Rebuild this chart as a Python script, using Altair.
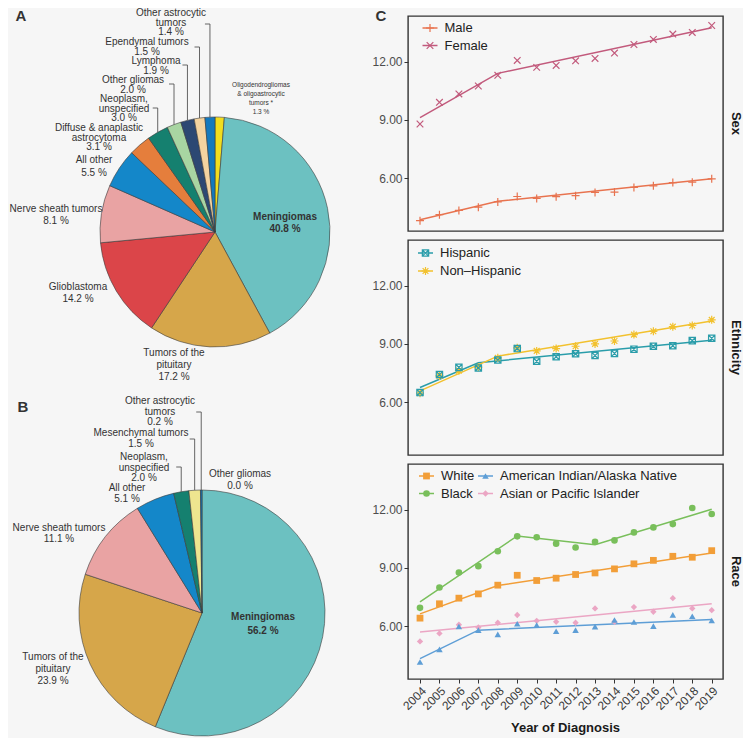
import math
import altair as alt
import pandas as pd

FONT = "Liberation Sans"
BG = "#F6F6F6"
TXT = "#333333"

# ---------------- Panel A / B : pie data ----------------
PIE_A_CATS = ["Oligodendrogliomas & oligoastrocytic tumors", "Meningiomas", "Tumors of the pituitary",
              "Glioblastoma", "Nerve sheath tumors", "All other", "Diffuse & anaplastic astrocytoma",
              "Neoplasm, unspecified", "Other gliomas", "Lymphoma", "Ependymal tumors",
              "Other astrocytic tumors"]
PIE_A_PCT = [1.3, 40.8, 17.2, 14.2, 8.1, 5.5, 3.1, 3.0, 2.0, 1.9, 1.5, 1.4]

PIE_B_CATS = ["Other gliomas", "Meningiomas", "Tumors of the pituitary", "Nerve sheath tumors",
              "All other", "Neoplasm, unspecified", "Mesenchymal tumors", "Other astrocytic tumors"]
PIE_B_PCT = [0.0, 56.2, 23.9, 11.1, 5.1, 2.0, 1.5, 0.2]

CAT_COLORS = {
    "Meningiomas": "#6CC1C1",
    "Tumors of the pituitary": "#D6A64A",
    "Glioblastoma": "#DB4549",
    "Nerve sheath tumors": "#E9A3A3",
    "All other": "#1487C9",
    "Diffuse & anaplastic astrocytoma": "#E57E3C",
    "Neoplasm, unspecified": "#15806F",
    "Other gliomas": "#A8D5A2",
    "Lymphoma": "#2C4873",
    "Ependymal tumors": "#F3D3A0",
    "Other astrocytic tumors": "#1479BD",
    "Oligodendrogliomas & oligoastrocytic tumors": "#F1DD1F",
    "Mesenchymal tumors": "#EEE58F",
}

# ---------------- Panel C : incidence rates ----------------
YEARS = list(range(2004, 2020))

MALE = [3.80, 4.11, 4.33, 4.50, 4.77, 5.05, 4.95, 5.04, 5.09, 5.26, 5.28, 5.52, 5.60, 5.77, 5.79, 5.96]
FEMALE = [8.79, 9.91, 10.34, 10.75, 11.30, 12.07, 11.71, 11.81, 12.05, 12.17, 12.45, 12.89, 13.15, 13.43, 13.51, 13.87]
MALE_FIT_YEARS = [2004, 2008, 2019]
MALE_FIT = [3.85, 4.80, 5.97]
FEMALE_FIT_YEARS = [2004, 2008, 2019]
FEMALE_FIT = [9.12, 11.40, 13.75]

HISPANIC = [6.49, 7.42, 7.79, 7.76, 8.17, 8.76, 8.11, 8.34, 8.49, 8.40, 8.51, 8.73, 8.88, 8.91, 9.17, 9.29]
NON_HISPANIC = [6.46, 7.35, 7.62, 7.80, 8.28, 8.80, 8.64, 8.76, 8.88, 9.00, 9.15, 9.48, 9.65, 9.89, 9.95, 10.24]
HISPANIC_FIT_YEARS = [2004, 2007, 2019]
HISPANIC_FIT = [6.75, 8.03, 9.19]
NON_HISPANIC_FIT_YEARS = [2004, 2008, 2019]
NON_HISPANIC_FIT = [6.58, 8.37, 10.18]

WHITE = [6.41, 7.15, 7.44, 7.66, 8.11, 8.62, 8.35, 8.47, 8.66, 8.74, 8.95, 9.21, 9.39, 9.60, 9.55, 9.89]
BLACK = [6.94, 7.99, 8.76, 9.09, 9.86, 10.63, 10.58, 10.25, 10.05, 10.35, 10.42, 10.83, 11.09, 11.26, 12.09, 11.78]
AIAN = [4.15, 4.80, 5.98, 5.79, 5.57, 6.12, 6.05, 5.73, 5.79, 5.97, 6.31, 6.21, 6.00, 6.58, 6.51, 6.29]
API = [5.21, 5.62, 6.07, 5.93, 6.17, 6.57, 6.27, 6.22, 6.17, 6.91, 6.22, 6.98, 6.74, 7.44, 6.91, 6.82]
WHITE_FIT_YEARS = [2004, 2008, 2019]
WHITE_FIT = [6.63, 8.09, 9.77]
BLACK_FIT_YEARS = [2004, 2009, 2013, 2019]
BLACK_FIT = [7.25, 10.65, 10.20, 12.03]
AIAN_FIT_YEARS = [2004, 2007, 2019]
AIAN_FIT = [4.32, 5.79, 6.34]
API_FIT_YEARS = [2004, 2019]
API_FIT = [5.69, 7.15]

Y_TICKS = [6, 9, 12]

# ---------------- layout (screen px of the reference) ----------------
OX, OY = 8, 16          # screen -> left-view coordinates
PIE_A_C, PIE_A_R = (214, 232), 115
PIE_B_C, PIE_B_R = (201, 613), 123

NAME_LINES = {
    "Meningiomas": ["Meningiomas"],
    "Tumors of the pituitary": ["Tumors of the", "pituitary"],
    "Glioblastoma": ["Glioblastoma"],
    "Nerve sheath tumors": ["Nerve sheath tumors"],
    "All other": ["All other"],
    "Diffuse & anaplastic astrocytoma": ["Diffuse & anaplastic", "astrocytoma"],
    "Neoplasm, unspecified": ["Neoplasm,", "unspecified"],
    "Other gliomas": ["Other gliomas"],
    "Lymphoma": ["Lymphoma"],
    "Ependymal tumors": ["Ependymal tumors"],
    "Other astrocytic tumors": ["Other astrocytic", "tumors"],
    "Oligodendrogliomas & oligoastrocytic tumors": ["Oligodendrogliomas", "& oligoastrocytic", "tumors *"],
    "Mesenchymal tumors": ["Mesenchymal tumors"],
}
# (center x, first line y, line step, style)
POS_A = {
    "Other astrocytic tumors": (170, 13, 9.5, "n"),
    "Ependymal tumors": (146, 41.5, 10, "n"),
    "Lymphoma": (155, 61, 9.5, "n"),
    "Other gliomas": (132, 80, 9.5, "n"),
    "Neoplasm, unspecified": (123, 99, 9.5, "n"),
    "Diffuse & anaplastic astrocytoma": (98, 128, 9.5, "n"),
    "All other": (93, 160, 12.5, "n"),
    "Nerve sheath tumors": (55, 209, 12, "n"),
    "Glioblastoma": (77, 287, 12, "n"),
    "Tumors of the pituitary": (173, 353, 12, "n"),
    "Meningiomas": (284, 217, 11.5, "b"),
    "Oligodendrogliomas & oligoastrocytic tumors": (260, 85, 9, "s"),
}
POS_B = {
    "Other astrocytic tumors": (159, 401, 10.5, "n"),
    "Mesenchymal tumors": (140, 433, 11, "n"),
    "Neoplasm, unspecified": (143, 457, 10.5, "n"),
    "All other": (126, 488, 11, "n"),
    "Other gliomas": (239, 474, 12, "n"),
    "Nerve sheath tumors": (58, 528, 11, "n"),
    "Tumors of the pituitary": (52, 657, 12, "n"),
    "Meningiomas": (262, 617, 14, "b"),
}
LEADERS_A = {"Other astrocytic tumors": 24, "Ependymal tumors": 47, "Lymphoma": 65,
             "Other gliomas": 84, "Neoplasm, unspecified": 108}
LEADERS_B = {"Other astrocytic tumors": 412, "Mesenchymal tumors": 439, "Neoplasm, unspecified": 467}
LETTERS = [("A", 20, 15.5), ("B", 22, 407), ("C", 380, 15.5)]

# ---------------- left view: two pies ----------------
all_cats = list(CAT_COLORS.keys())
cat_scale = alt.Scale(domain=all_cats, range=[CAT_COLORS[c] for c in all_cats])


def pie_layer(cats, pcts, center, r):
    df = pd.DataFrame({"cat": cats, "pct": pcts, "ord": list(range(len(cats)))})
    return alt.Chart(df).mark_arc(radius=r, stroke="#3a3a3a", strokeWidth=0.6).encode(
        theta=alt.Theta("pct:Q", stack=True),
        order=alt.Order("ord:Q"),
        color=alt.Color("cat:N", scale=cat_scale, legend=None),
        x=alt.value(center[0] - OX), y=alt.value(center[1] - OY),
    )


rows = []
for cats, pcts, pos in ((PIE_A_CATS, PIE_A_PCT, POS_A), (PIE_B_CATS, PIE_B_PCT, POS_B)):
    for c, p in zip(cats, pcts):
        x, y0, dy, st = pos[c]
        lines = NAME_LINES[c] + [f"{p:.1f} %"]
        for i, t in enumerate(lines):
            rows.append({"text": t, "x": x - OX, "y": y0 + i * dy - OY, "st": st})
lab = pd.DataFrame(rows)


def text_layer(df, size, weight="normal"):
    return alt.Chart(df).mark_text(font=FONT, fontSize=size, fontWeight=weight, color=TXT,
                                   align="center", baseline="middle").encode(
        x=alt.X("x:Q", scale=None, axis=None), y=alt.Y("y:Q", scale=None, axis=None), text="text:N")


lead_rows = []
for cats, pcts, leaders, center, r in ((PIE_A_CATS, PIE_A_PCT, LEADERS_A, PIE_A_C, PIE_A_R),
                                       (PIE_B_CATS, PIE_B_PCT, LEADERS_B, PIE_B_C, PIE_B_R)):
    for c, ty in leaders.items():
        i = cats.index(c)
        mid = sum(pcts[:i]) + pcts[i] / 2
        a = mid / 100 * 2 * math.pi
        ex = center[0] + r * math.sin(a)
        ey = center[1] - r * math.cos(a)
        lead_rows.append({"x": ex - 5 - OX, "x2": ex - OX, "y": ty - OY, "y2": ty - OY})
        lead_rows.append({"x": ex - OX, "x2": ex - OX, "y": ty - OY, "y2": ey - OY})
leaders_df = pd.DataFrame(lead_rows)
leader_layer = alt.Chart(leaders_df).mark_rule(color="#555555", strokeWidth=0.9).encode(
    x=alt.X("x:Q", scale=None, axis=None), x2="x2:Q",
    y=alt.Y("y:Q", scale=None, axis=None), y2="y2:Q")

letters_df = pd.DataFrame([{"text": t, "x": x - OX, "y": y - OY} for t, x, y in LETTERS])

anchor = alt.Chart(pd.DataFrame({"a": [0]})).mark_rule(color=BG, strokeWidth=1).encode(
    x=alt.value(0), x2=alt.value(2), y=alt.value(-7.5))

left = alt.layer(
    anchor,
    pie_layer(PIE_A_CATS, PIE_A_PCT, PIE_A_C, PIE_A_R),
    pie_layer(PIE_B_CATS, PIE_B_PCT, PIE_B_C, PIE_B_R),
    leader_layer,
    text_layer(lab[lab.st == "n"], 10),
    text_layer(lab[lab.st == "b"], 10, "bold"),
    text_layer(lab[lab.st == "s"], 6.5),
    text_layer(letters_df, 15, "bold"),
).resolve_scale(theta="independent").properties(width=399, height=720)

# ---------------- right column: three panels ----------------
W, H = 315, 215
X_DOM = [2003.383, 2019.58]
Y_DOM = [3.27, 14.36]

PLUS = "M-1,0L1,0M0,-1L0,1"
CROSS = "M-1,-1L1,1M-1,1L1,-1"
BOXX = "M-1,-1L1,-1L1,1L-1,1ZM-1,-1L1,1M-1,1L1,-1"
STAR = "M-1,0L1,0M0,-1L0,1M-0.72,-0.72L0.72,0.72M-0.72,0.72L0.72,-0.72"

y_axis = alt.Axis(values=Y_TICKS, format=".2f", grid=False, domain=False, tickSize=4, labelPadding=2,
                  title=None, labelFont=FONT, labelFontSize=12, labelColor="#4d4d4d", tickColor="#333333")
x_axis = alt.Axis(values=YEARS, format="d", labelAngle=-45, labelAlign="right", labelBaseline="top",
                  grid=False, domain=False, tickSize=4, labelPadding=2, title=None, labelFont=FONT,
                  labelFontSize=12, labelColor="#3a3a3a", tickColor="#333333", labelOverlap=False,
                  labelFlush=False)


def panel(strip, names, values, fits, colors, shapes, sizes, filled, legend, draw_order, bottom=False):
    cs = alt.Scale(domain=names, range=colors)
    ss = alt.Scale(domain=names, range=shapes)
    zs = alt.Scale(domain=names, range=sizes)
    pts = pd.DataFrame([{"year": y, "value": v, "series": names[k]}
                        for k in draw_order for y, v in zip(YEARS, values[k])])
    fit = pd.DataFrame([{"year": y, "value": v, "series": n}
                        for n, (fy, fv) in zip(names, fits) for y, v in zip(fy, fv)])
    xenc = alt.X("year:Q", scale=alt.Scale(domain=X_DOM, nice=False, zero=False),
                 axis=x_axis if bottom else None)
    yenc = alt.Y("value:Q", scale=alt.Scale(domain=Y_DOM, nice=False, zero=False), axis=y_axis)
    col = alt.Color("series:N", scale=cs, legend=None)
    shp = alt.Shape("series:N", scale=ss, legend=None)
    siz = alt.Size("series:N", scale=zs, legend=None)

    layers = [
        alt.Chart(fit).mark_line(strokeWidth=1.5).encode(x=xenc, y=yenc, color=col, detail="series:N"),
        alt.Chart(pts).mark_point(filled=filled, strokeWidth=1.2, opacity=1).encode(
            x=xenc, y=yenc, color=col, shape=shp, size=siz),
    ]
    for name, x0, ly in legend:
        d = pd.DataFrame({"series": [name]})
        layers.append(alt.Chart(d).mark_rule(strokeWidth=1.5).encode(
            x=alt.value(x0), x2=alt.value(x0 + 15), y=alt.value(ly), color=col))
        layers.append(alt.Chart(d).mark_point(filled=filled, strokeWidth=1.2, opacity=1).encode(
            x=alt.value(x0 + 7.5), y=alt.value(ly), color=col, shape=shp, size=siz))
        layers.append(alt.Chart(d).mark_text(font=FONT, fontSize=13, color="#222222", align="left",
                                             baseline="middle").encode(
            x=alt.value(x0 + 22), y=alt.value(ly), text="series:N"))
    layers.append(alt.Chart(pd.DataFrame({"t": [strip]})).mark_text(
        font=FONT, fontSize=13, fontWeight="bold", color="#1a1a1a", angle=90,
        align="center", baseline="middle").encode(x=alt.value(328), y=alt.value(H / 2), text="t:N"))
    if bottom:
        layers.append(alt.Chart(pd.DataFrame({"t": ["Year of Diagnosis"]})).mark_text(
            font=FONT, fontSize=13, fontWeight="bold", color="#1a1a1a", align="center",
            baseline="middle").encode(x=alt.value(W / 2), y=alt.value(263.5), text="t:N"))
    return alt.layer(*layers).properties(
        width=W, height=H, view=alt.ViewBackground(stroke="#333333", strokeWidth=1.4))


sex = panel("Sex", ["Male", "Female"], [MALE, FEMALE],
            [(MALE_FIT_YEARS, MALE_FIT), (FEMALE_FIT_YEARS, FEMALE_FIT)],
            ["#E8734F", "#C25A7C"], [PLUS, CROSS], [64, 44], False,
            [("Male", 14.5, 12), ("Female", 14.5, 29.5)], [0, 1])
eth = panel("Ethnicity", ["Hispanic", "Non–Hispanic"], [HISPANIC, NON_HISPANIC],
            [(HISPANIC_FIT_YEARS, HISPANIC_FIT), (NON_HISPANIC_FIT_YEARS, NON_HISPANIC_FIT)],
            ["#2A9DAA", "#F2C12E"], [BOXX, STAR], [40, 64], False,
            [("Hispanic", 10, 13), ("Non–Hispanic", 10, 31)], [1, 0])
race = panel("Race", ["White", "Black", "American Indian/Alaska Native", "Asian or Pacific Islander"],
             [WHITE, BLACK, AIAN, API],
             [(WHITE_FIT_YEARS, WHITE_FIT), (BLACK_FIT_YEARS, BLACK_FIT),
              (AIAN_FIT_YEARS, AIAN_FIT), (API_FIT_YEARS, API_FIT)],
             ["#F29E38", "#79BF5B", "#5E9ED6", "#EBA6C4"],
             ["square", "circle", "triangle-up", "diamond"], [46, 40, 56, 28], True,
             [("White", 11, 12), ("Black", 11, 29.5),
              ("American Indian/Alaska Native", 70, 12), ("Asian or Pacific Islander", 70, 29.5)],
             [3, 2, 0, 1], bottom=True)

right = alt.vconcat(sex, eth, race, spacing=9, bounds="flush").resolve_scale(
    color="independent", shape="independent", size="independent")

chart = alt.hconcat(left, right, spacing=0, bounds="flush").resolve_scale(
    color="independent").properties(padding=0, background=BG).configure_view(strokeWidth=0)

chart.save("out.html", embed_options={"renderer": "svg", "actions": False})
